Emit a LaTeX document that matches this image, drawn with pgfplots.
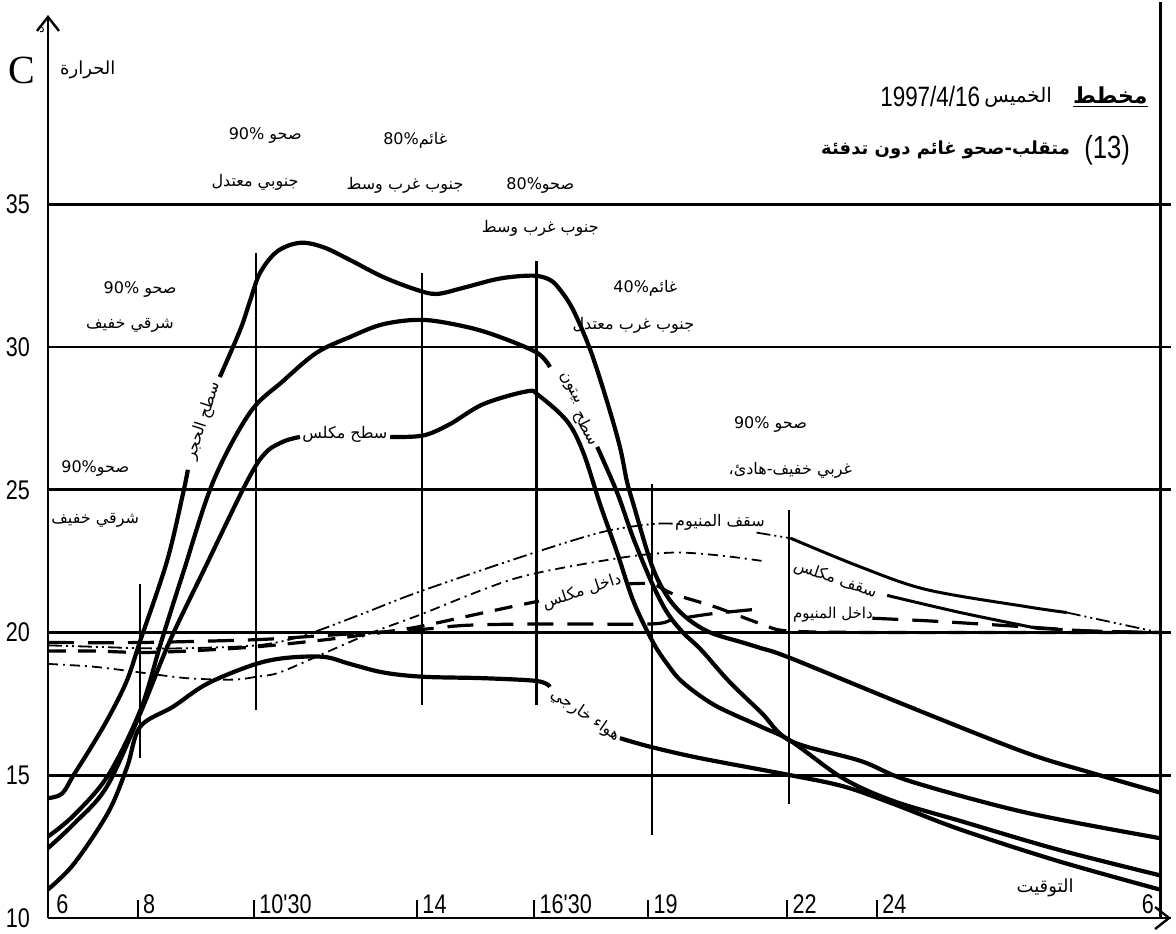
\documentclass[border=0pt]{standalone}
\usepackage{pgfplots}
\pgfplotsset{compat=1.18}
\usepackage{fontspec}
\setmainfont{Liberation Sans}
\newfontfamily\numfont{Liberation Sans}[FakeStretch=0.8]
\newfontfamily\serfont{Liberation Serif}
\newfontfamily\arfont[Script=Arabic]{DejaVu Sans}
\TeXXeTstate=1
\usetikzlibrary{arrows.meta}
\newcommand{\AR}[1]{{\arfont\beginR #1\endR}}
\newcommand{\LT}[1]{\beginL #1\endL{}}
\newcommand{\nf}[1]{\numfont\fontsize{#1}{#1}\selectfont}
\newcommand{\af}[1]{\fontsize{#1}{#1}\selectfont}

\tikzset{
  solidcurve/.style={black, line width=2.1pt, smooth, tension=0.55},
  guide/.style={black, line width=1.1pt},
  ceilAl/.style={black, line width=0.9pt, smooth, tension=0.5,
    dash pattern=on 7pt off 2pt on 1pt off 2pt on 1pt off 2pt},
  ceilPl/.style={black, line width=0.9pt, smooth, tension=0.5,
    dash pattern=on 5pt off 2.5pt on 1pt off 2.5pt},
  inPl/.style={black, line width=1.6pt, smooth, tension=0.5,
    dash pattern=on 9pt off 6pt},
  inAl/.style={black, line width=1.6pt, smooth, tension=0.5,
    dash pattern=on 13pt off 7pt},
  ann/.style={font=\arfont\af{8}, inner sep=1pt},
}

\begin{document}
\begin{tikzpicture}
\useasboundingbox (-24pt,-7.5pt) rectangle (564pt,459pt);
\begin{axis}[
  width=561.5pt, height=451.5pt, scale only axis,
  xmin=6, xmax=30.25, ymin=10, ymax=41.63,
  axis x line=bottom, axis y line=left,
  axis line style={line width=1.2pt,
    -{Straight Barb[length=7pt,width=11pt,line width=1.2pt]}},
  xtick={7.94,10.45,13.97,16.5,18.96,21.96,23.9},
  xticklabels={}, xtick align=inside,
  major tick length=9pt,
  xtick style={line width=1pt, black},
  ytick={10,15,20,25,30,35},
  ytick style={draw=none},
  ymajorgrids, grid style={line width=1.3pt, black},
  yticklabel style={font=\nf{13.5}, xshift=-1pt},
  /pgf/number format/assume math mode=true,
  clip=false,
]

% frame line at the closing 6 o'clock
\addplot[guide, line width=1.2pt] coordinates {(30.02,10) (30.02,42.1)};

% hour guide lines
\addplot[guide] coordinates {(7.99,15.6) (7.99,21.7)};
\addplot[guide] coordinates {(10.49,17.3) (10.49,33.3)};
\addplot[guide] coordinates {(14.08,17.45) (14.08,32.6)};
\addplot[guide] coordinates {(16.55,17.45) (16.55,33.0)};
\addplot[guide] coordinates {(19.05,12.9) (19.05,25.2)};
\addplot[guide] coordinates {(22.0,14.0) (22.0,24.3)};

% stone surface
\addplot[solidcurve] coordinates {
 (6,14.2) (6.3,14.35) (6.55,15.0) (6.9,15.9) (7.3,17.0) (7.7,18.3)
 (7.99,19.7) (8.57,22.5) (8.92,24.9) (9.02,25.7)};
\addplot[solidcurve] coordinates {
 (9.71,28.95) (10.15,30.6) (10.36,31.6) (10.58,32.6) (10.95,33.35)
 (11.44,33.65) (11.94,33.5) (12.52,33.05) (13.24,32.45) (13.97,32.0)
 (14.40,31.86) (14.96,32.07) (15.76,32.4) (16.48,32.5) (16.84,32.35)
 (17.06,32.0) (17.34,31.3) (17.71,29.9) (18.07,28.1) (18.35,26.5)
 (18.5,25.3) (18.64,24.5) (19.05,22.3) (19.4,21.2) (19.8,20.5)
 (20.3,20.0) (21.0,19.65) (21.4,19.45) (22.04,19.1) (24.6,17.4)
 (27.1,15.8) (28.5,15.1) (30,14.4)};

% concrete surface
\addplot[solidcurve] coordinates {
 (6,12.85) (6.56,13.6) (7.3,15.0) (8.0,17.3) (8.45,19.7) (8.92,22.1)
 (9.57,25.3) (10.36,27.7) (11.07,28.8) (11.8,29.8) (12.52,30.35)
 (13.24,30.8) (14.1,30.95) (15.05,30.7) (15.76,30.35) (16.56,29.8)
 (16.84,29.3)};
\addplot[solidcurve] coordinates {
 (17.86,26.5) (18.29,24.9) (18.64,23.3) (19.05,21.7) (19.37,20.7)
 (19.71,20.0) (20.1,19.4) (20.7,18.3) (21.4,17.2) (22.04,16.2)
 (23.55,15.5) (24.6,14.8) (27.1,13.7) (30,12.8)};

% plastered surface
\addplot[solidcurve] coordinates {
 (6,12.45) (6.56,13.3) (7.27,14.6) (8.0,17.2) (8.63,19.7) (9.43,22.4)
 (10.3,25.3) (10.7,26.3) (11.1,26.7) (11.44,26.85)};
\addplot[solidcurve] coordinates {
 (13.39,26.85) (14.1,26.9) (14.68,27.3) (15.4,28.0) (16.35,28.45)
 (16.6,28.3) (17.21,27.4) (17.56,26.3) (17.92,24.5) (18.29,22.8)
 (18.64,21.1) (19.05,19.7) (19.37,18.9) (19.71,18.25) (20.4,17.45)
 (21.4,16.7) (22.04,16.2) (23.16,14.9) (24.25,14.1) (25.7,13.4)
 (27.8,12.4) (30,11.5)};

% outside air
\addplot[solidcurve] coordinates {
 (6,11.0) (6.56,11.9) (7.3,13.7) (7.71,15.3) (7.99,16.7) (8.7,17.4)
 (9.43,18.2) (10.4,18.85) (11.08,19.1) (11.94,19.15) (12.52,18.9)
 (13.24,18.6) (14.1,18.45) (15.4,18.4) (16.56,18.3) (16.84,18.1)};
\addplot[solidcurve] coordinates {
 (18.35,16.3) (19.0,16.0) (20.08,15.6) (22.04,15.0) (23.2,14.6)
 (24.25,14.0) (25.7,13.1) (27.8,12.0) (30,11.0)};

% aluminium ceiling
\addplot[ceilAl] coordinates {
 (6,19.55) (7,19.5) (8,19.45) (9,19.45) (10.5,19.55) (11.44,19.85)
 (12.7,20.6) (13.97,21.4) (16.13,22.6) (17.92,23.5) (19.05,23.8)
 (19.65,23.8)};
\addplot[ceilAl] coordinates {(21.3,23.5) (22.04,23.3)};
\addplot[solidcurve, line width=1.5pt] coordinates {
 (22.04,23.3) (23.54,22.3) (24.98,21.5) (27.15,20.9) (28.0,20.7)};
\addplot[ceilAl] coordinates {(28.0,20.7) (28.57,20.5) (30,20.0)};

% plastered ceiling
\addplot[ceilPl] coordinates {
 (6,18.9) (7,18.8) (8,18.6) (9,18.4) (10,18.35) (10.5,18.45) (11.0,18.6)
 (12.0,19.3) (13.0,20.0) (14.0,20.6) (16.1,21.9) (18.3,22.6) (19.5,22.8)
 (20.5,22.7) (21.45,22.5)};
\addplot[solidcurve, line width=1.5pt] coordinates {
 (24.12,21.3) (25.7,20.7) (27.35,20.15)};
\addplot[inAl, line width=1.5pt] coordinates {(27.35,20.15) (28.6,20.05) (30,20.0)};

% inside plastered room
\addplot[inPl] coordinates {
 (6,19.35) (7,19.35) (8,19.3) (9,19.35) (10.5,19.5) (12.0,19.75)
 (13.2,20.0) (14.0,20.2) (15.0,20.55) (16.0,20.9) (16.6,21.1)};
\addplot[inPl] coordinates {
 (18.5,21.7) (19.05,21.7) (19.5,21.35) (20.4,20.9) (21.4,20.3)
 (22.0,20.05) (24,20.0) (27,20.0) (30,20.0)};

% inside aluminium room
\addplot[inAl] coordinates {
 (6,19.65) (8,19.65) (10.5,19.75) (12,19.9) (14,20.1) (15,20.25)
 (16.5,20.3) (19,20.3) (19.5,20.45) (20.3,20.65) (21.2,20.8)};
\addplot[inAl] coordinates {
 (23.8,20.5) (25.1,20.4) (27.1,20.2) (28.5,20.05) (30,20.0)};

% axis captions
\node[font=\serfont\fontsize{20}{20}\selectfont] at (axis cs:5.44,39.7) {C};
\node[font=\arfont\af{6}] at (axis cs:5.87,41.1) {\AR{د}};
\node[font=\arfont\af{9}] at (axis cs:6.86,39.7) {\AR{الحرارة}};
\node[font=\arfont\af{9}] at (axis cs:27.53,11.05) {\AR{التوقيت}};

% title block
\node[font=\arfont\bfseries\af{11}] at (axis cs:28.94,38.76) {\underline{\AR{مخطط}}};
\node[font=\arfont\af{10}] at (axis cs:26.95,38.76) {\AR{الخميس}};
\node[font=\nf{14}] at (axis cs:25.05,38.76) {1997/4/16};
\node[font=\nf{16}] at (axis cs:28.87,36.9) {(13)};
\node[font=\arfont\bfseries\af{9}, anchor=east] at (axis cs:28.22,36.9)
  {\AR{متقلب-صحو غائم دون تدفئة}};

% weather notes
\node[ann] at (axis cs:10.69,37.42) {\AR{صحو \LT{90\%}}};
\node[ann] at (axis cs:10.47,35.78) {\AR{جنوبي معتدل}};
\node[ann] at (axis cs:13.93,37.25) {\AR{غائم\LT{80\%}}};
\node[ann] at (axis cs:13.71,35.67) {\AR{جنوب غرب وسط}};
\node[ann] at (axis cs:16.63,35.67) {\AR{صحو\LT{80\%}}};
\node[ann] at (axis cs:16.63,34.17) {\AR{جنوب غرب وسط}};
\node[ann] at (axis cs:7.99,32.0) {\AR{صحو \LT{90\%}}};
\node[ann] at (axis cs:7.77,30.77) {\AR{شرقي خفيف}};
\node[ann] at (axis cs:18.9,32.07) {\AR{غائم\LT{40\%}}};
\node[ann] at (axis cs:18.64,30.77) {\AR{جنوب غرب معتدل}};
\node[ann] at (axis cs:21.6,27.27) {\AR{صحو \LT{90\%}}};
\node[ann] at (axis cs:22.03,25.69) {\AR{غربي خفيف-هادئ،}};
\node[ann] at (axis cs:7.02,25.76) {\AR{صحو\LT{90\%}}};
\node[ann] at (axis cs:7.02,23.94) {\AR{شرقي خفيف}};

% curve names
\node[ann, rotate=72] at (axis cs:9.35,27.4) {\AR{سطح الحجر}};
\node[ann, rotate=-63] at (axis cs:17.62,27.15) {\AR{سطح}};
\node[ann, rotate=-63] at (axis cs:17.28,28.55) {\AR{بيتون}};
\node[ann] at (axis cs:12.41,26.95) {\AR{سطح مكلس}};
\node[ann, rotate=-34] at (axis cs:17.6,17.1) {\AR{هواء خارجي}};
\node[ann] at (axis cs:20.51,23.87) {\AR{سقف المنيوم}};
\node[ann, rotate=-19] at (axis cs:23.0,21.85) {\AR{سقف مكلس}};
\node[ann, font=\arfont\af{7.5}] at (axis cs:22.95,20.61) {\AR{داخل المنيوم}};
\node[ann, rotate=18] at (axis cs:17.53,21.42) {\AR{داخل مكلس}};

% hour labels
\foreach \h/\t in {7.94/8, 10.45/10'30, 13.97/14, 16.5/16'30, 18.96/19, 21.96/22, 23.9/24}{
  \edef\tmp{\noexpand\node[font=\noexpand\nf{13.5}, anchor=south west, inner sep=1pt, xshift=1.5pt, yshift=1pt] at (axis cs:\h,10) {\t};}
  \tmp
}
\node[font=\nf{13.5}, anchor=south west, inner sep=1pt, xshift=3pt, yshift=1pt] at (axis cs:6,10) {6};
\node[font=\nf{13.5}, anchor=south east, inner sep=1pt, xshift=-2pt, yshift=1pt] at (axis cs:30.02,10) {6};
\end{axis}
\end{tikzpicture}
\end{document}
